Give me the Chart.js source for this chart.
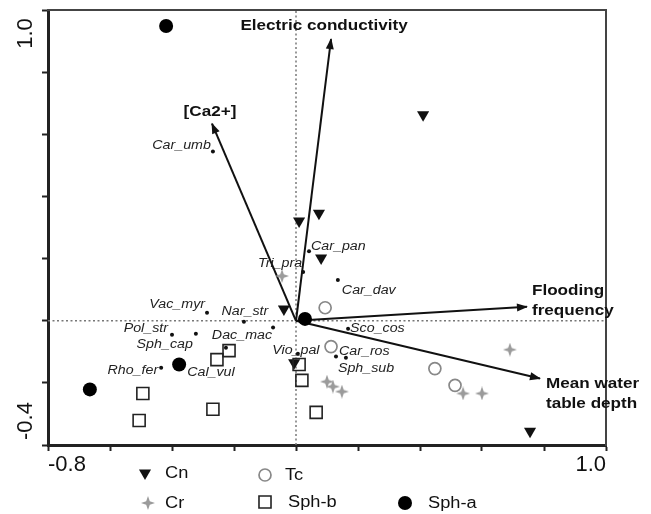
<!DOCTYPE html>
<html>
<head>
<meta charset="utf-8">
<script src="https://cdn.jsdelivr.net/npm/chart.js@4.4.1/dist/chart.umd.min.js"></script>
<style>
  html, body { margin: 0; padding: 0; background: #fff; }
  #wrap { width: 651px; height: 514px; }
</style>
</head>
<body>
<div id="wrap"><canvas id="ordination" width="651" height="514"></canvas></div>
<script>
// === Site scores ===
const cnX = [0.010, 0.074, 0.410, 0.081, -0.039, -0.006, 0.755];
const cnY = [0.321, 0.346, 0.663, 0.202, 0.038, -0.135, -0.356];

const crX = [-0.045, 0.100, 0.119, 0.148, 0.539, 0.600, 0.690];
const crY = [0.144, -0.196, -0.212, -0.228, -0.234, -0.234, -0.093];

const tcX = [0.094, 0.113, 0.448, 0.513];
const tcY = [0.042, -0.083, -0.154, -0.208];

const sphbX = [-0.494, -0.506, -0.268, -0.255, -0.216, 0.010, 0.019, 0.065];
const sphbY = [-0.234, -0.321, -0.285, -0.125, -0.096, -0.141, -0.192, -0.295];

const sphaX = [-0.419, 0.029, -0.377, -0.665];
const sphaY = [0.949, 0.006, -0.141, -0.221];

// === Species scores ===
const speciesNames = ['Car_umb', 'Car_pan', 'Tri_pra', 'Car_dav', 'Vac_myr', 'Nar_str', 'Dac_mac',
  'Pol_str', 'Sph_cap', 'Rho_fer', 'Cal_vul', 'Vio_pal', 'Sco_cos', 'Car_ros', 'Sph_sub'];
const speciesX = [-0.268, 0.042, 0.023, 0.135, -0.287, -0.168, -0.074,
  -0.400, -0.323, -0.435, -0.226, 0.006, 0.168, 0.129, 0.161];
const speciesY = [0.545, 0.224, 0.157, 0.131, 0.026, -0.003, -0.022,
  -0.045, -0.042, -0.151, -0.087, -0.106, -0.026, -0.115, -0.119];

// === Environmental vectors ===
const envNames = [['Electric conductivity'], ['[Ca2+]'], ['Flooding', 'frequency'], ['Mean water', 'table depth']];
const envX = [0.113, -0.271, 0.745, 0.787];
const envY = [0.907, 0.635, 0.045, -0.186];

// === Axis labels ===
const xTickValues = [-0.8, 1.0];
const xTickLabels = ['-0.8', '1.0'];
const yTickValues = [1.0, -0.4];
const yTickLabels = ['1.0', '-0.4'];

// === Label placement (align, dx, dy in px) ===
const speciesLabelPos = [
  ['right', -2, -6], ['left', 2, -5], ['right', -1, -8], ['left', 4, 10], ['right', -2, -8],
  ['center', 1, -10], ['right', -1, 8], ['right', -4, -6], ['right', -3, 11], ['right', -3, 3],
  ['center', -15, 25], ['center', -2, -3], ['left', 2, 0], ['left', 3, -5], ['left', -8, 11]
];
const envLabelPos = [['center', -7, -13], ['center', -2, -12], ['left', 5, -16], ['left', 6, 5]];

// === Helpers ===
const pts = (xs, ys) => xs.map((x, i) => ({ x: x, y: ys[i] }));
const FONT = '"Liberation Sans", Arial, sans-serif';
const SX = 1.14; // reference text is a bit wide

function starCanvas(size, color) {
  const c = document.createElement('canvas');
  c.width = size; c.height = size;
  const g = c.getContext('2d');
  const m = size / 2, ro = size / 2, ri = size / 5.5;
  g.fillStyle = color;
  g.beginPath();
  for (let k = 0; k < 8; k++) {
    const r = k % 2 === 0 ? ro : ri;
    const a = k * Math.PI / 4 - Math.PI / 2;
    g.lineTo(m + r * Math.cos(a), m + r * Math.sin(a));
  }
  g.closePath();
  g.fill();
  return c;
}
const crStar = starCanvas(14, '#9b9b9b');

function drawText(ctx, txt, x, y, align, font) {
  ctx.save();
  ctx.translate(x, y);
  ctx.scale(SX, 1);
  ctx.font = font;
  ctx.textAlign = align;
  ctx.textBaseline = 'middle';
  ctx.fillText(txt, 0, 0);
  ctx.restore();
}

// === Datasets ===
const datasets = [
  { label: 'zeroV', type: 'line', data: [{ x: 0, y: -0.4 }, { x: 0, y: 1.0 }], borderColor: '#777', borderWidth: 1.5, borderDash: [2, 2.5], pointRadius: 0, order: 20 },
  { label: 'zeroH', type: 'line', data: [{ x: -0.8, y: 0 }, { x: 1.0, y: 0 }], borderColor: '#777', borderWidth: 1.5, borderDash: [2, 2.5], pointRadius: 0, order: 20 },
];
envX.forEach((x, i) => {
  datasets.push({ label: 'env' + i, type: 'line', data: [{ x: 0, y: 0 }, { x: x, y: envY[i] }], borderColor: '#111', borderWidth: 2, pointRadius: 0, order: 15 });
});
datasets.push(
  { label: 'species', data: pts(speciesX, speciesY), pointStyle: 'circle', pointRadius: 2, backgroundColor: '#111', borderWidth: 0, order: 12 },
  { label: 'Cr', data: pts(crX, crY), pointStyle: crStar, pointRadius: 7, order: 9 },
  { label: 'Tc', data: pts(tcX, tcY), pointStyle: 'circle', pointRadius: 6, backgroundColor: 'rgba(0,0,0,0)', borderColor: '#888', borderWidth: 1.7, order: 8 },
  { label: 'Cn', data: pts(cnX, cnY), pointStyle: 'triangle', rotation: 180, pointRadius: 7, backgroundColor: '#111', borderColor: '#111', borderWidth: 0, order: 7 },
  { label: 'Sph-b', data: pts(sphbX, sphbY), pointStyle: 'rect', pointRadius: 8.5, backgroundColor: 'rgba(0,0,0,0)', borderColor: '#222', borderWidth: 1.6, order: 6 },
  { label: 'Sph-a', data: pts(sphaX, sphaY), pointStyle: 'circle', pointRadius: 7, backgroundColor: '#000', borderWidth: 0, order: 5 }
);

// === Legend layout (marker x, y, text x) ===
const legendItems = [
  { name: 'Cn', mx: 145, my: 473, tx: 165 },
  { name: 'Tc', mx: 265, my: 475, tx: 285 },
  { name: 'Cr', mx: 148, my: 503, tx: 165 },
  { name: 'Sph-b', mx: 265, my: 502, tx: 288 },
  { name: 'Sph-a', mx: 405, my: 503, tx: 428 }
];

// === Annotation plugin: arrowheads, labels, y ticks, legend ===
const annotate = {
  id: 'annotate',
  afterDraw(chart) {
    const ctx = chart.ctx;
    const xs = chart.scales.x, ys = chart.scales.y;
    const ox = xs.getPixelForValue(0), oy = ys.getPixelForValue(0);

    // arrowheads + vector labels
    envX.forEach((x, i) => {
      const tx = xs.getPixelForValue(x), ty = ys.getPixelForValue(envY[i]);
      const a = Math.atan2(ty - oy, tx - ox);
      ctx.save();
      ctx.translate(tx, ty);
      ctx.rotate(a);
      ctx.fillStyle = '#111';
      ctx.beginPath();
      ctx.moveTo(1, 0);
      ctx.lineTo(-10, -4);
      ctx.lineTo(-10, 4);
      ctx.closePath();
      ctx.fill();
      ctx.restore();

      const [al, dx, dy] = envLabelPos[i];
      ctx.fillStyle = '#111';
      envNames[i].forEach((line, k) => {
        drawText(ctx, line, tx + dx, ty + dy + k * 20, al, 'bold 15px ' + FONT);
      });
    });

    // species labels
    ctx.fillStyle = '#222';
    speciesNames.forEach((nm, i) => {
      const px = xs.getPixelForValue(speciesX[i]), py = ys.getPixelForValue(speciesY[i]);
      const [al, dx, dy] = speciesLabelPos[i];
      drawText(ctx, nm, px + dx, py + dy, al, 'italic 12.5px ' + FONT);
    });

    // rotated y tick labels
    ctx.fillStyle = '#111';
    yTickValues.forEach((v, i) => {
      const py = ys.getPixelForValue(v);
      ctx.save();
      ctx.translate(26, i === 0 ? py + 8 : py - 5);
      ctx.rotate(-Math.PI / 2);
      ctx.font = '22px ' + FONT;
      ctx.textAlign = i === 0 ? 'right' : 'left';
      ctx.textBaseline = 'middle';
      ctx.fillText(yTickLabels[i], 0, 0);
      ctx.restore();
    });

    // legend
    legendItems.forEach(item => {
      const ds = chart.data.datasets.find(d => d.label === item.name);
      ctx.save();
      ctx.fillStyle = ds.backgroundColor || '#000';
      ctx.strokeStyle = ds.borderColor || '#000';
      ctx.lineWidth = ds.borderWidth || 0;
      Chart.helpers.drawPoint(ctx, {
        pointStyle: ds.pointStyle, rotation: ds.rotation || 0,
        radius: ds.pointRadius, borderWidth: ds.borderWidth || 0
      }, item.mx, item.my);
      ctx.restore();
      ctx.fillStyle = '#111';
      drawText(ctx, item.name, item.tx, item.my + 1, 'left', '16px ' + FONT);
    });
  }
};

// === Chart ===
new Chart(document.getElementById('ordination'), {
  type: 'scatter',
  data: { datasets: datasets },
  options: {
    responsive: false,
    animation: false,
    layout: { padding: { left: 0, right: 45, top: 8, bottom: 0 } },
    plugins: { legend: { display: false }, tooltip: { enabled: false } },
    scales: {
      x: {
        type: 'linear', position: 'bottom', min: -0.8, max: 1.0,
        ticks: {
          stepSize: 0.2, align: 'inner', autoSkip: false, maxRotation: 0, padding: 1,
          color: '#111', font: { family: FONT, size: 22 },
          callback: v => { const k = xTickValues.findIndex(t => Math.abs(t - v) < 1e-6); return k >= 0 ? xTickLabels[k] : ''; }
        },
        grid: { drawOnChartArea: false, drawTicks: true, tickLength: 6, tickWidth: 2, color: '#222' },
        border: { display: true, color: '#222', width: 3 },
        afterFit: s => { s.height = 69; }
      },
      y: {
        type: 'linear', position: 'left', min: -0.4, max: 1.0,
        ticks: { stepSize: 0.2, callback: () => '' },
        grid: { drawOnChartArea: false, drawTicks: true, tickLength: 6, tickWidth: 2, color: '#222' },
        border: { display: true, color: '#222', width: 3 },
        afterFit: s => { s.width = 48; }
      },
      x2: {
        type: 'linear', position: 'top', min: -0.8, max: 1.0,
        ticks: { display: false }, grid: { display: false },
        border: { display: true, color: '#444', width: 2 },
        afterFit: s => { s.height = 0; }
      },
      y2: {
        type: 'linear', position: 'right', min: -0.4, max: 1.0,
        ticks: { display: false }, grid: { display: false },
        border: { display: true, color: '#444', width: 2 },
        afterFit: s => { s.width = 0; }
      }
    }
  },
  plugins: [annotate]
});
</script>
</body>
</html>
